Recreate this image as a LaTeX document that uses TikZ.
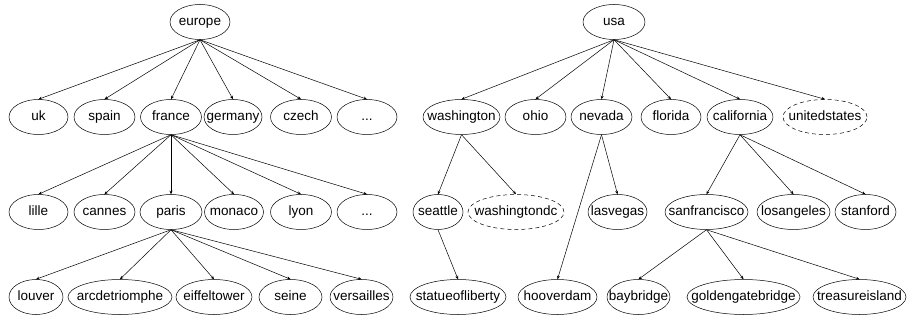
\documentclass[tikz,border=0pt]{standalone}
\usepackage{fontspec}
\setmainfont{Liberation Sans}
\usetikzlibrary{shapes.geometric,arrows.meta}
\tikzset{
  nd/.style={ellipse, draw, line width=0.5pt, minimum height=35pt, inner sep=0pt,
    label={[font=\fontsize{13.5}{14}\selectfont, inner sep=0pt, text height=9.7pt, text depth=2.8pt]center:#1}},
  dnd/.style={nd=#1, dash pattern=on 4pt off 3pt},
  ed/.style={line width=0.5pt, -{Stealth[length=3.5pt,width=3pt]}}
}
\begin{document}
\begin{tikzpicture}[x=1pt,y=-1pt]
\useasboundingbox (0,0) rectangle (907,320);
% europe tree
\node[nd=europe, minimum width=60pt] (europe) at (200,22) {};
\node[nd=uk, minimum width=59pt] (uk) at (38.5,117) {};
\node[nd=spain, minimum width=61pt] (spain) at (104.5,117) {};
\node[nd=france, minimum width=61pt] (france) at (171,117) {};
\node[nd=germany, minimum width=58pt] (germany) at (233,117) {};
\node[nd=czech, minimum width=61pt] (czech) at (301,117) {};
\node[nd={...}, minimum width=60pt] (etc1) at (367,117) {};
\node[nd=lille, minimum width=59pt] (lille) at (38.5,212) {};
\node[nd=cannes, minimum width=61pt] (cannes) at (104.5,212) {};
\node[nd=paris, minimum width=62pt] (paris) at (171,212) {};
\node[nd=monaco, minimum width=59pt] (monaco) at (234,212) {};
\node[nd=lyon, minimum width=61pt] (lyon) at (301,212) {};
\node[nd={...}, minimum width=60pt] (etc2) at (367,212) {};
\node[nd=louver, minimum width=54pt] (louver) at (36,297) {};
\node[nd=arcdetriomphe, minimum width=104pt] (arc) at (120,297) {};
\node[nd=eiffeltower, minimum width=76pt] (eiffel) at (214,297) {};
\node[nd=seine, minimum width=63pt] (seine) at (290.5,297) {};
\node[nd=versailles, minimum width=63pt] (versailles) at (361.5,297) {};
% usa tree
\node[nd=usa, minimum width=62pt] (usa) at (614,22) {};
\node[nd=washington, minimum width=77pt] (washington) at (461.5,117) {};
\node[nd=ohio, minimum width=61pt] (ohio) at (535.5,117) {};
\node[nd=nevada, minimum width=61pt] (nevada) at (601.5,117) {};
\node[nd=florida, minimum width=60pt] (florida) at (671,117) {};
\node[nd=california, minimum width=66pt] (california) at (740,117) {};
\node[dnd=unitedstates, minimum width=84pt] (unitedstates) at (825,117) {};
\node[nd=seattle, minimum width=50pt] (seattle) at (438,212) {};
\node[dnd=washingtondc, minimum width=96pt] (washingtondc) at (516,212) {};
\node[nd=lasvegas, minimum width=59pt] (lasvegas) at (617.5,212) {};
\node[nd=sanfrancisco, minimum width=83pt] (sanfrancisco) at (706.5,212) {};
\node[nd=losangeles, minimum width=73pt] (losangeles) at (793.5,212) {};
\node[nd=stanford, minimum width=61pt] (stanford) at (865.5,212) {};
\node[nd=statueofliberty, minimum width=96pt] (statue) at (458,297) {};
\node[nd=hooverdam, minimum width=79pt] (hoover) at (557.5,297) {};
\node[nd=baybridge, minimum width=63pt] (baybridge) at (638.5,297) {};
\node[nd=goldengatebridge, minimum width=113pt] (golden) at (743.5,297) {};
\node[nd=treasureisland, minimum width=93pt] (treasure) at (859.5,297) {};
% edges
\foreach \t in {uk,spain,france,germany,czech,etc1} \draw[ed] (europe.south) -- (\t.north);
\foreach \t in {lille,cannes,paris,monaco,lyon,etc2} \draw[ed] (france.south) -- (\t.north);
\foreach \t in {louver,arc,eiffel,seine,versailles} \draw[ed] (paris.south) -- (\t.north);
\foreach \t in {washington,ohio,nevada,florida,california,unitedstates} \draw[ed] (usa.south) -- (\t.north);
\foreach \t in {seattle,washingtondc} \draw[ed] (washington.south) -- (\t.north);
\foreach \t in {lasvegas,hoover} \draw[ed] (nevada.south) -- (\t.north);
\foreach \t in {sanfrancisco,losangeles,stanford} \draw[ed] (california.south) -- (\t.north);
\draw[ed] (seattle.south) -- (statue.north);
\foreach \t in {baybridge,golden,treasure} \draw[ed] (sanfrancisco.south) -- (\t.north);
\end{tikzpicture}
\end{document}
